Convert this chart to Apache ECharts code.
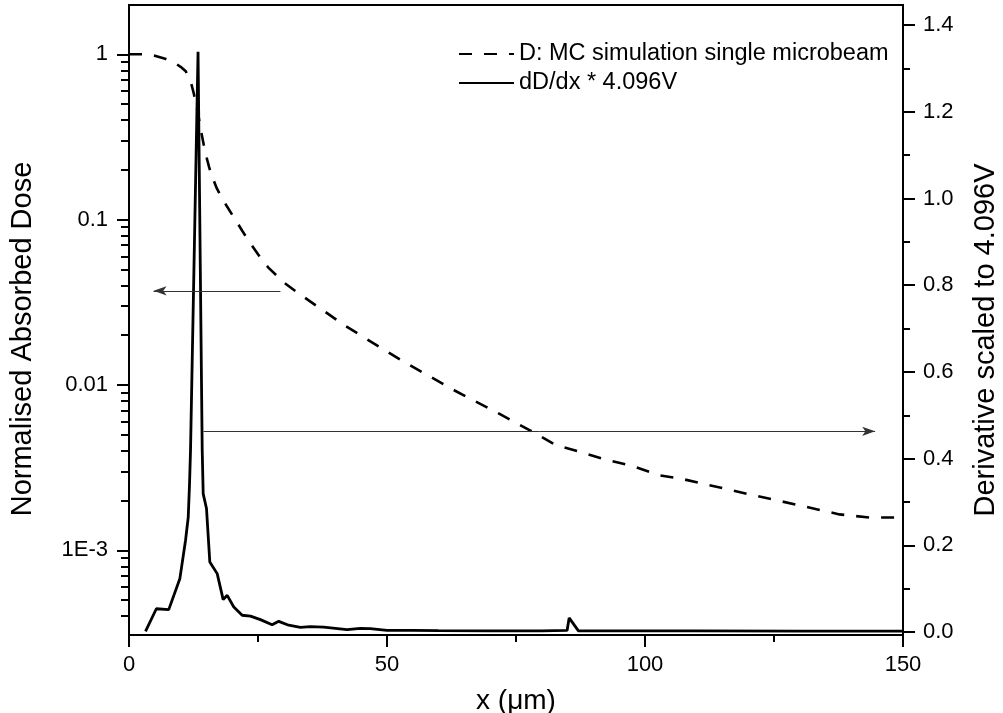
<!DOCTYPE html>
<html><head><meta charset="utf-8">
<script src="https://cdn.jsdelivr.net/npm/echarts@6/dist/echarts.min.js"></script>
<style>html,body{margin:0;padding:0;background:#fff}#c{width:1003px;height:713px}</style>
</head><body><div id="c"></div>
<script>
// Dashed curve: normalised absorbed dose (left, log axis)
const doseX = [0, 3, 5, 7, 8.4, 9, 10, 11, 12, 12.5, 13, 13.5, 14, 14.5, 15, 15.5, 16, 17, 18, 19, 20, 21, 22, 23, 25, 27, 30, 32.6, 41.9, 52.6, 63.2, 71.9, 77.7, 82.6, 87.4, 92.5, 97.5, 102.9, 106.8, 120.3, 130, 137.7, 143.5, 150];
const doseY = [1.0, 1.0, 0.98, 0.94, 0.902, 0.88, 0.84, 0.79, 0.676, 0.589, 0.501, 0.417, 0.339, 0.282, 0.240, 0.209, 0.186, 0.155, 0.135, 0.120, 0.107, 0.0955, 0.0851, 0.0759, 0.0617, 0.0513, 0.0417, 0.0363, 0.0228, 0.0142, 0.00923, 0.00666, 0.00532, 0.00435, 0.00394, 0.00353, 0.00324, 0.00284, 0.00272, 0.00218, 0.00187, 0.00165, 0.00158, 0.00158];

// Solid curve: derivative scaled to 4.096V (right axis)
const derivX = [3.2, 5.3, 7.7, 9.85, 10.96, 11.48, 11.73, 11.92, 13.38, 14.19, 14.38, 15.02, 15.66, 17.09, 18.25, 19.03, 20.31, 21.93, 23.54, 25.47, 27.74, 29.02, 30.95, 33.22, 35.15, 37.73, 42.26, 44.84, 46.77, 50.0, 55, 60, 70, 80, 84.9, 85.3, 87.1, 95, 110, 130, 150];
const derivY = [0.002, 0.054, 0.052, 0.123, 0.212, 0.265, 0.342, 0.418, 1.338, 0.419, 0.319, 0.285, 0.162, 0.135, 0.075, 0.085, 0.058, 0.039, 0.037, 0.029, 0.017, 0.025, 0.016, 0.011, 0.013, 0.0115, 0.006, 0.009, 0.008, 0.004, 0.004, 0.0035, 0.003, 0.003, 0.004, 0.033, 0.003, 0.003, 0.003, 0.0025, 0.0025];

const leftTicks = [0.001, 0.01, 0.1, 1];
const leftTickLabels = ['1E-3', '0.01', '0.1', '1'];
const rightTicks = [0, 0.2, 0.4, 0.6, 0.8, 1.0, 1.2, 1.4];
const rightMinorTicks = [0.1, 0.3, 0.5, 0.7, 0.9, 1.1, 1.3];
const seriesNames = ['D: MC simulation single microbeam', 'dD/dx * 4.096V'];
// annotation arrows [x0, x1, y on right axis]
const arrows = [[29.35, 4.76, 0.787], [14.44, 144.6, 0.463]];

const LEFT_MIN = Math.log10(3.077e-4), LEFT_MAX = Math.log10(1.986);
const RIGHT_MIN = -0.0065, RIGHT_MAX = 1.446;
const FONT = '"Liberation Sans", Arial, sans-serif';

const leftMajor = leftTicks.map(v => Math.log10(v));
const leftMinor = [];
for (let d = -4; d <= 0; d++) for (let k = 2; k <= 9; k++) {
  const v = Math.log10(k) + d;
  if (v > LEFT_MIN && v < LEFT_MAX) leftMinor.push(v);
}

const chart = echarts.init(document.getElementById('c'), null, {renderer: 'canvas'});
const black = '#000';
const baseAxis = {
  splitLine: {show: false},
  axisLine: {show: true, onZero: false, lineStyle: {color: black, width: 2}},
};
chart.setOption({
  animation: false,
  backgroundColor: '#fff',
  textStyle: {fontFamily: FONT, color: black},
  grid: {left: 129, right: 100, top: 5, bottom: 78, show: true, borderColor: black, borderWidth: 2,
    containLabel: false, outerBoundsMode: 'none'},
  legend: {
    orient: 'vertical', left: 458, top: 42, padding: 0,
    itemWidth: 55, itemHeight: 14, itemGap: 5, selectedMode: false,
    itemStyle: {color: 'rgba(0,0,0,0)', borderColor: 'rgba(0,0,0,0)', borderWidth: 0},
    textStyle: {fontSize: 23.5, color: black, fontFamily: FONT},
    data: seriesNames
  },
  xAxis: [{
    ...baseAxis, type: 'value', min: 0, max: 150, interval: 50, position: 'bottom',
    axisTick: {show: true, length: 12, lineStyle: {color: black, width: 2}},
    minorTick: {show: true, splitNumber: 2, length: 7, lineStyle: {color: black, width: 2}},
    minorSplitLine: {show: false},
    axisLabel: {fontSize: 22, color: black, margin: 19, fontFamily: FONT},
    name: 'x (μm)', nameLocation: 'middle', nameGap: 52,
    nameTextStyle: {fontSize: 28, color: black, fontFamily: FONT}
  }],
  yAxis: [{
    ...baseAxis, type: 'value', min: LEFT_MIN, max: LEFT_MAX, position: 'left',
    axisTick: {show: true, length: 12, customValues: leftMajor, lineStyle: {color: black, width: 2}},
    axisLabel: {fontSize: 22, color: black, margin: 21, fontFamily: FONT, customValues: leftMajor,
      formatter: v => { const i = leftMajor.findIndex(m => Math.abs(m - v) < 1e-6); return i >= 0 ? leftTickLabels[i] : ''; }},
    name: 'Normalised Absorbed Dose', nameLocation: 'middle', nameGap: 92, nameRotate: 90,
    nameTextStyle: {fontSize: 29, color: black, fontFamily: FONT, padding: [0, 38, 0, 0]}
  }, {
    ...baseAxis, type: 'value', min: RIGHT_MIN, max: RIGHT_MAX, position: 'right',
    axisTick: {show: true, length: 12, customValues: rightTicks, lineStyle: {color: black, width: 2}},
    axisLabel: {fontSize: 22, color: black, margin: 20, fontFamily: FONT, customValues: rightTicks,
      formatter: v => v.toFixed(1)},
    name: 'Derivative scaled to 4.096V', nameLocation: 'middle', nameGap: 68, nameRotate: 90,
    nameTextStyle: {fontSize: 29, color: black, fontFamily: FONT, padding: [0, 40, 0, 0]}
  }, {
    type: 'value', min: LEFT_MIN, max: LEFT_MAX, position: 'left',
    splitLine: {show: false}, axisLine: {show: false}, axisLabel: {show: false},
    axisTick: {show: true, length: 8, customValues: leftMinor, lineStyle: {color: black, width: 2}}
  }, {
    type: 'value', min: RIGHT_MIN, max: RIGHT_MAX, position: 'right',
    splitLine: {show: false}, axisLine: {show: false}, axisLabel: {show: false},
    axisTick: {show: true, length: 7, customValues: rightMinorTicks, lineStyle: {color: black, width: 2}}
  }],
  series: [{
    name: seriesNames[0], type: 'line', xAxisIndex: 0, yAxisIndex: 0,
    symbol: 'none', showSymbol: false, silent: true,
    lineStyle: {color: black, width: 2.6, type: [13, 12]},
    itemStyle: {color: black},
    data: doseX.map((x, i) => [x, Math.log10(doseY[i])])
  }, {
    name: seriesNames[1], type: 'line', xAxisIndex: 0, yAxisIndex: 1,
    symbol: 'none', showSymbol: false, silent: true,
    lineStyle: {color: black, width: 2.8},
    itemStyle: {color: black},
    data: derivX.map((x, i) => [x, derivY[i]]),
    markLine: {
      silent: true, symbol: ['none', 'arrow'], symbolSize: [7, 13],
      label: {show: false},
      lineStyle: {color: '#333', width: 1, type: 'solid'},
      data: arrows.map(a => [{coord: [a[0], a[2]]}, {coord: [a[1], a[2]]}])
    }
  }]
});
</script>
</body></html>
